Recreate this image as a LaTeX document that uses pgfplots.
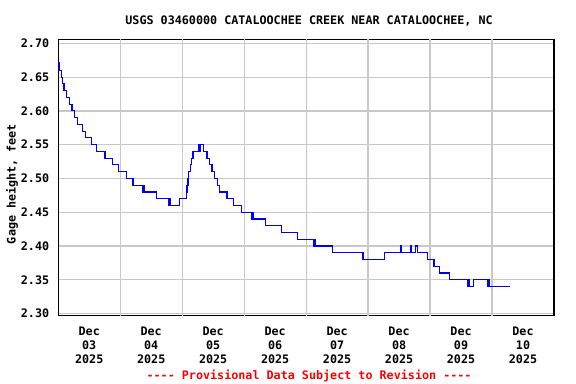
\documentclass[border=0pt]{standalone}
\usepackage{fontspec}
\setmainfont{DejaVu Sans Mono}
\usepackage{pgfplots}
\pgfplotsset{compat=1.18}
\definecolor{gridgray}{RGB}{200,200,200}
\definecolor{usgsblue}{RGB}{0,0,255}
\definecolor{usgsred}{RGB}{255,0,0}
\newcommand\lf{\fontsize{8.8pt}{10.5pt}\selectfont\bfseries}
\newcommand\hy{-\kern0pt}
\begin{document}
\begin{tikzpicture}
\useasboundingbox (0,0) rectangle (432pt,288pt);
\begin{axis}[
  at={(43.7pt,51.2pt)}, anchor=south west,
  scale only axis, width=371.8pt, height=207.3pt,
  xmin=0, xmax=8, ymin=2.2967, ymax=2.706,
  xtick={0.5,1.5,2.5,3.5,4.5,5.5,6.5,7.5},
  xticklabels={{Dec\\03\\2025},{Dec\\04\\2025},{Dec\\05\\2025},{Dec\\06\\2025},{Dec\\07\\2025},{Dec\\08\\2025},{Dec\\09\\2025},{Dec\\10\\2025}},
  xticklabel style={align=center, font=\lf, yshift=-5pt},
  extra x ticks={1,2,3,4,5,6,7},
  extra x tick labels={},
  extra x tick style={grid=major},
  ytick={2.3,2.35,2.4,2.45,2.5,2.55,2.6,2.65,2.7},
  ymajorgrids,
  grid style={gridgray, line width=0.9pt},
  major tick length=0pt,
  axis line style={line width=1.1pt},
  yticklabel style={font=\lf, xshift=-3.3pt, /pgf/number format/.cd, fixed, fixed zerofill, precision=2, assume math mode=true},
]
\addplot[const plot, usgsblue, line width=0.85pt] coordinates {
(0,2.672) (0.0129,2.66) (0.0452,2.65) (0.0726,2.64) (0.0935,2.63) (0.1323,2.62)
(0.1855,2.61) (0.2226,2.60) (0.2661,2.59) (0.3097,2.58) (0.3903,2.57) (0.4435,2.56)
(0.5355,2.55) (0.6161,2.54) (0.7548,2.53) (0.8742,2.52) (0.9758,2.51) (1.1000,2.50)
(1.2065,2.49) (1.3677,2.48) (1.3758,2.49) (1.3903,2.48) (1.5839,2.47) (1.7871,2.46)
(1.7935,2.47) (1.8032,2.46) (1.9548,2.47) (2.0677,2.48) (2.0774,2.49) (2.0935,2.50)
(2.1048,2.51) (2.1323,2.52) (2.1484,2.53) (2.1742,2.54) (2.2710,2.55) (2.2871,2.54)
(2.2935,2.55) (2.3419,2.54) (2.4000,2.53) (2.4387,2.52) (2.4806,2.51) (2.5242,2.50)
(2.5677,2.49) (2.6048,2.48) (2.7226,2.47) (2.8306,2.46) (2.9548,2.45) (3.1258,2.44)
(3.1371,2.45) (3.1452,2.44) (3.3419,2.43) (3.6000,2.42) (3.8677,2.41) (4.1210,2.40)
(4.1290,2.41) (4.1484,2.40) (4.4194,2.39) (4.9065,2.38) (4.9145,2.39) (4.9274,2.38)
(5.2661,2.39) (5.5194,2.40) (5.5355,2.39) (5.6855,2.40) (5.7016,2.39) (5.7661,2.40)
(5.7935,2.39) (5.9548,2.38) (6.0645,2.37) (6.1484,2.36) (6.3145,2.35) (6.6000,2.34)
(6.6210,2.35) (6.6290,2.34) (6.6968,2.35) (6.9323,2.34) (6.9435,2.35) (6.9516,2.34)
(7.2823,2.34)
};
\end{axis}
\node[anchor=base, font=\lf] at (231.8pt,269.3pt) {USGS 03460000 CATALOOCHEE CREEK NEAR CATALOOCHEE, NC};
\node[rotate=90, font=\lf] at (9pt,150pt) {Gage height, feet};
\node[anchor=base, font=\lf, text=usgsred] at (231.8pt,3pt) {\hy\hy\hy\hy{} Provisional Data Subject to Revision \hy\hy\hy-};
\end{tikzpicture}
\end{document}
